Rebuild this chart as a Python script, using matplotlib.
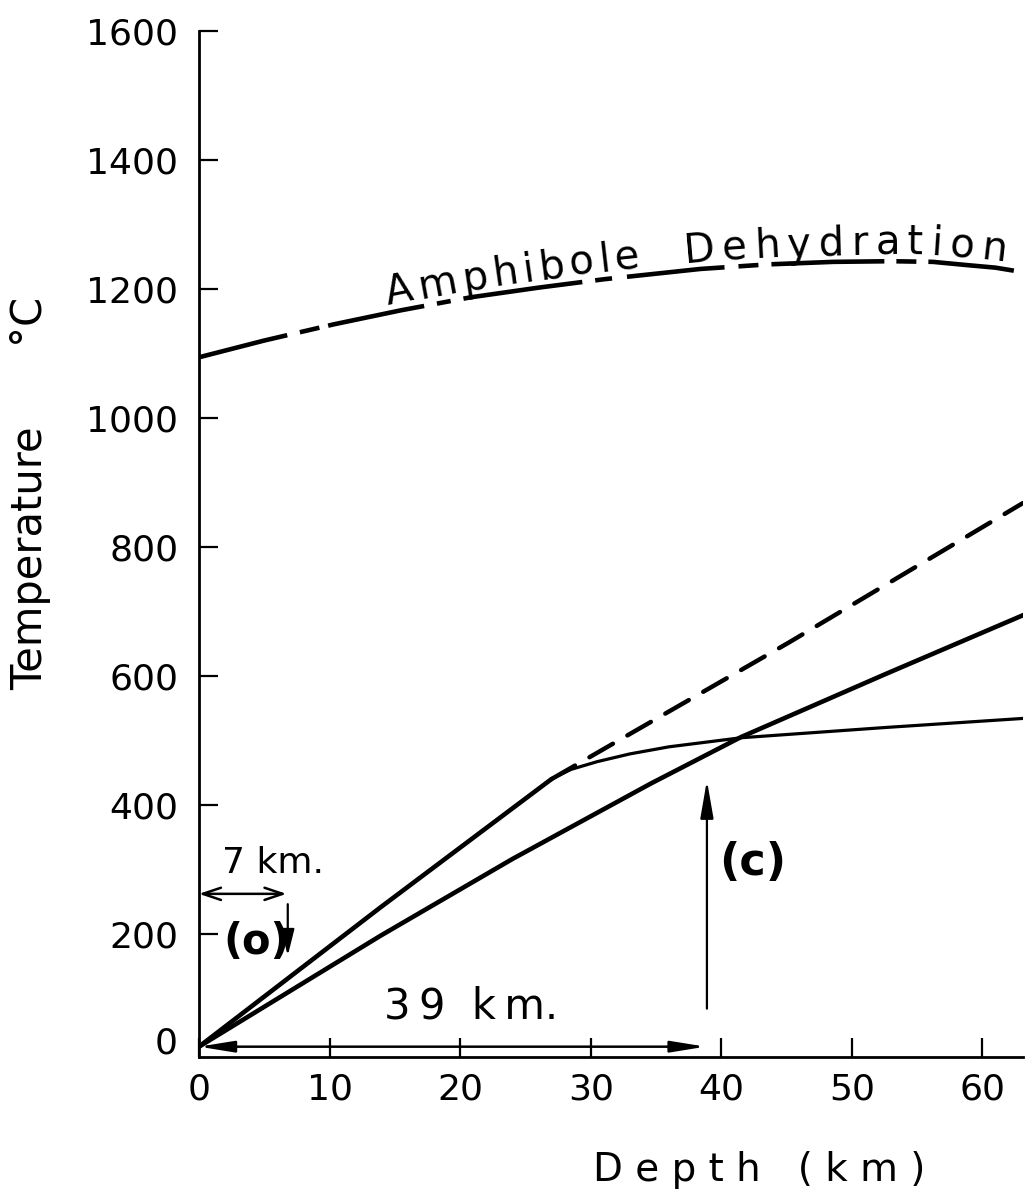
import numpy as np
import matplotlib
matplotlib.use('Agg')
import matplotlib.pyplot as plt

plt.rcParams['font.family'] = 'DejaVu Sans'
plt.rcParams['lines.scale_dashes'] = False

# depth (km) and temperature (C)
amph_depth = [0, 5, 10.3, 15.5, 20.8, 26, 31, 38.4, 43.5, 48.6, 53, 56.2, 58.8, 61, 63.1]
amph_temp = [1094, 1120, 1145, 1167, 1187, 1202, 1215, 1231, 1238, 1242, 1243, 1242, 1237, 1233, 1226]

upper_depth = [0, 13.9, 27]
upper_temp = [25, 241, 440]

dash_depth = [27, 45.2, 63.1]
dash_temp = [440, 652, 868]

thin_depth = [27, 28.5, 30.5, 33, 36, 41.5, 52.6, 63.1]
thin_temp = [440, 455, 467, 479, 490, 504, 520, 534]

lower_depth = [0, 13.9, 24, 34.6, 41.5, 52.6, 63.1]
lower_temp = [25, 197, 316, 433, 505, 603, 694]

xticks = [0, 10, 20, 30, 40, 50, 60]
yticks = [200, 400, 600, 800, 1000, 1200, 1400, 1600]

fig = plt.figure(figsize=(10.32, 12.01), dpi=100)
ax = fig.add_axes([0.1928, 0.1199, 0.7984, 0.8543])
ax.set_xlim(0, 63.1)
ax.set_ylim(9, 1600)

# amphibole dehydration curve, broken under the lettering
px = np.array([91, 13, 20, 9, 98, 13, 14, 13, 120, 13, 17, 15, 98, 14, 20, 13, 113, 12, 20, 12, 86, 20])
ax.plot(amph_depth, amph_temp, color='black', lw=3.3, dashes=list(px * 0.72),
        solid_capstyle='butt', dash_capstyle='butt')

ax.plot(upper_depth, upper_temp, color='black', lw=3.3, solid_capstyle='round')
ax.plot(dash_depth, dash_temp, color='black', lw=3.2, dashes=(19.5, 12), dash_capstyle='round')
ax.plot(thin_depth, thin_temp, color='black', lw=2.3)
ax.plot(lower_depth, lower_temp, color='black', lw=3.3)

renderer = fig.canvas.get_renderer()
kmpx = 13.05  # pixels per km on this axis


def label_along(word, d0, span, lift, size=29):
    # glyph widths, then even tracking so the word covers the given span
    w = []
    for ch in word:
        tmp = ax.text(0, 0, ch, fontsize=size)
        w.append(tmp.get_window_extent(renderer).width / kmpx)
        tmp.remove()
    base = sum((w[i] + w[i + 1]) / 2 for i in range(len(w) - 1))
    track = (span - base) / (len(w) - 1)
    d = d0
    for i, ch in enumerate(word):
        t = np.interp(d, amph_depth, amph_temp)
        p0 = ax.transData.transform((d - 0.6, np.interp(d - 0.6, amph_depth, amph_temp)))
        p1 = ax.transData.transform((d + 0.6, np.interp(d + 0.6, amph_depth, amph_temp)))
        ang = np.degrees(np.arctan2(p1[1] - p0[1], p1[0] - p0[0]))
        ax.text(d, t + lift, ch, rotation=ang, rotation_mode='anchor',
                ha='center', va='baseline', fontsize=size)
        if i < len(w) - 1:
            d += (w[i] + w[i + 1]) / 2 + track


label_along('Amphibole', 15.48, 17.4, 12)
label_along('Dehydration', 38.4, 22.4, 11)

# arrows
ax.annotate('', xy=(0, 25), xytext=(38.8, 25),
            arrowprops=dict(arrowstyle='<|-|>,head_length=1.05,head_width=0.17', color='black',
                            lw=1.8, shrinkA=0, shrinkB=0, mutation_scale=20))
ax.annotate('', xy=(0, 262), xytext=(6.7, 262),
            arrowprops=dict(arrowstyle='<->,head_length=0.65,head_width=0.22', color='black',
                            lw=1.8, shrinkA=0, shrinkB=0, mutation_scale=20))
ax.annotate('', xy=(6.8, 166), xytext=(6.8, 246),
            arrowprops=dict(arrowstyle='-|>,head_length=0.8,head_width=0.2', color='black',
                            lw=1.6, shrinkA=0, shrinkB=0, mutation_scale=20))
ax.annotate('', xy=(38.9, 438), xytext=(38.9, 84),
            arrowprops=dict(arrowstyle='-|>,head_length=1.15,head_width=0.2', color='black',
                            lw=1.6, shrinkA=0, shrinkB=0, mutation_scale=20))

ax.text(5.7, 310, '7 km.', fontsize=26, ha='center', va='center')
ax.text(20.8, 88, '3\u20099  k\u2009m.', fontsize=30, ha='center', va='center')
ax.text(4.4, 188, '(o)', fontsize=30, ha='center', va='center', fontweight='bold')
ax.text(42.4, 311, '(c)', fontsize=32, ha='center', va='center', fontweight='bold')

# axes styling
for s in ['top', 'right']:
    ax.spines[s].set_visible(False)
for s in ['left', 'bottom']:
    ax.spines[s].set_linewidth(2.0)
ax.set_xticks(xticks)
ax.set_yticks(yticks)
ax.tick_params(direction='in', length=14, width=1.6, labelsize=26)
ax.tick_params(axis='x', pad=11)
ax.tick_params(axis='y', pad=15)
ax.text(-0.0255, 30, '0', transform=ax.get_yaxis_transform(), fontsize=26,
        ha='right', va='center')

fig.text(0.736, 0.026, 'D e p t h   ( k m )', fontsize=28, ha='center', va='center')
fig.text(0.029, 0.589, 'Temperature      °C', fontsize=30, ha='center', va='center',
         rotation=90)

fig.savefig('out.png', dpi=100, facecolor='white')
